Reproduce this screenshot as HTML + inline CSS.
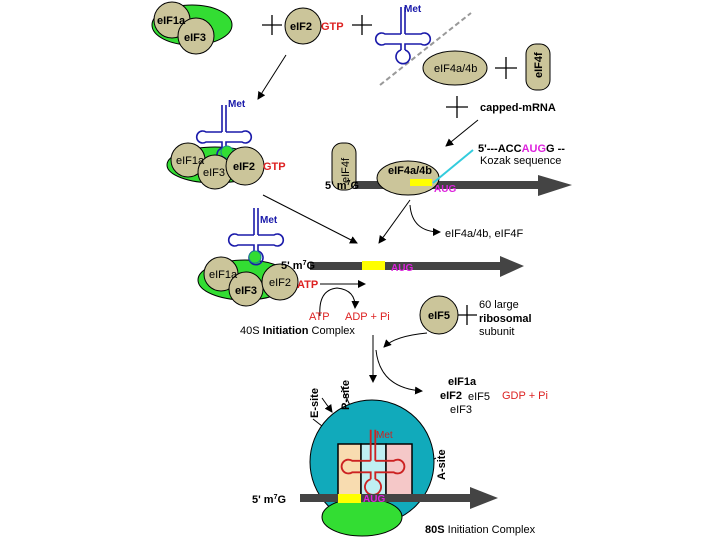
<!DOCTYPE html>
<html><head><meta charset="utf-8"><style>
html,body{margin:0;padding:0;background:#fff;}
svg{display:block;font-family:"Liberation Sans",sans-serif;}
</style></head><body>
<svg width="720" height="540" viewBox="0 0 720 540" xmlns="http://www.w3.org/2000/svg">
<defs>
<marker id="ah" markerWidth="8" markerHeight="8" refX="7" refY="4" orient="auto" markerUnits="userSpaceOnUse">
<path d="M0,0 L8,4 L0,8 Z" fill="#000"/></marker>
<g id="trna" fill="none" stroke-width="1.6">
<path d="M-2,-35 V-8 M2,-35 V-8"/>
<path d="M-2,-8 H-18 A6,6 0 1 0 -18,2 H-2 V8"/>
<path d="M2,-8 H18 A6,6 0 1 1 18,2 H2 V8"/>
<path d="M-2,8 A7,7 0 1 0 2,8"/>
</g>
</defs>
<rect width="720" height="540" fill="#fff"/>
<g stroke="#000" stroke-width="1">
<ellipse cx="192" cy="25" rx="40" ry="20" fill="#33dd33"/>
<circle cx="172" cy="20" r="18" fill="#cbc59a"/>
<circle cx="196" cy="36" r="18" fill="#cbc59a"/>
<circle cx="303" cy="26" r="18" fill="#cbc59a"/>
<ellipse cx="455" cy="68" rx="32" ry="17" fill="#cbc59a"/>
<rect x="526" y="44" width="24" height="46" rx="10" fill="#cbc59a"/>
</g>
<g font-size="11" font-weight="bold">
<text x="157" y="24">eIF1a</text><text x="184" y="41">eIF3</text>
<text x="290" y="30">eIF2</text>
<text x="321" y="30" fill="#dd2222">GTP</text>
<text x="434" y="72" font-weight="normal">eIF4a/4b</text>
<text transform="translate(542,78) rotate(-90)" font-size="11">eIF4f</text>
</g>
<g stroke="#000" stroke-width="1.3">
<path d="M262,25 H282 M272,15 V35"/>
<path d="M352,25 H372 M362,15 V35"/>
<path d="M495,68 H517 M506,57 V79"/>
<path d="M446,107 H468 M457,96 V118"/>
</g>
<line x1="380" y1="85" x2="471" y2="13" stroke="#999" stroke-width="2" stroke-dasharray="5,3"/>
<use href="#trna" transform="translate(403,42)" stroke="#1a1aaa"/>
<text x="404" y="12" font-size="10" font-weight="bold" fill="#1a1aaa">Met</text>
<text x="480" y="111" font-size="11" font-weight="bold">capped-mRNA</text>
<g stroke="#000" stroke-width="1" marker-end="url(#ah)">
<line x1="286" y1="55" x2="258" y2="99"/>
<line x1="478" y1="120" x2="446" y2="146"/>
<line x1="263" y1="195" x2="357" y2="243"/>
<line x1="410" y1="200" x2="379" y2="243"/>
<path d="M410,205 Q412,232 440,232" fill="none"/>
<line x1="320" y1="284" x2="365" y2="284"/>
<path d="M320,316 Q318,290 337,288 Q356,290 355,308" fill="none"/>
<path d="M427,333 Q395,336 384,347" fill="none"/>
<line x1="373" y1="335" x2="373" y2="382"/>
<path d="M376,350 Q380,388 422,391" fill="none"/>
<line x1="322" y1="398" x2="332" y2="412"/>
<line x1="341" y1="386" x2="366" y2="440"/>
<line x1="436" y1="458" x2="410" y2="472"/>
</g>
<line x1="313" y1="419" x2="345" y2="444" stroke="#000" stroke-width="1" marker-end="url(#ah)"/>
<ellipse cx="215" cy="165" rx="48" ry="18" fill="#33dd33" stroke="#000"/>
<use href="#trna" transform="translate(224,140)" stroke="#1a1aaa"/>
<circle cx="227" cy="152" r="6" fill="#33dd33" stroke="#1a8a8a"/>
<text x="228" y="107" font-size="10" font-weight="bold" fill="#1a1aaa">Met</text>
<g stroke="#000" fill="#cbc59a">
<circle cx="188" cy="160" r="17"/><circle cx="215" cy="172" r="17"/><circle cx="245" cy="166" r="19"/>
</g>
<g font-size="11"><text x="176" y="164">eIF1a</text><text x="203" y="176">eIF3</text>
<text x="233" y="170" font-weight="bold">eIF2</text>
<text x="263" y="170" fill="#dd2222" font-weight="bold">GTP</text></g>
<rect x="355" y="181" width="185" height="8" fill="#444"/>
<path d="M538,175 L572,185 L538,196 Z" fill="#444"/>
<rect x="332" y="143" width="24" height="47" rx="10" fill="#cbc59a" stroke="#000"/>
<text transform="translate(349,183) rotate(-90)" font-size="11">eIF4f</text>
<text x="325" y="189" font-size="11" font-weight="bold">5' m<tspan font-size="7" dy="-4">7</tspan><tspan dy="4">G</tspan></text>
<ellipse cx="408" cy="178" rx="31" ry="17" fill="#cbc59a" stroke="#000"/>
<text x="388" y="174" font-size="11" font-weight="bold">eIF4a/4b</text>
<rect x="410" y="179" width="22" height="7" fill="#ffff00"/>
<line x1="433" y1="183" x2="473" y2="150" stroke="#33ccdd" stroke-width="2"/>
<text x="434" y="192" font-size="10" font-weight="bold" fill="#dd22dd">AUG</text>
<text x="478" y="152" font-size="11" font-weight="bold">5'---ACC<tspan fill="#dd22dd">AUG</tspan>G --</text>
<text x="480" y="164" font-size="11">Kozak sequence</text>
<text x="445" y="237" font-size="11">eIF4a/4b, eIF4F</text>
<rect x="310" y="262" width="192" height="8" fill="#444"/>
<path d="M500,256 L524,266 L500,277 Z" fill="#444"/>
<rect x="362" y="261" width="23" height="9" fill="#ffff00"/>
<text x="391" y="271" font-size="10" font-weight="bold" fill="#dd22dd">AUG</text>
<ellipse cx="245" cy="280" rx="47" ry="20" fill="#33dd33" stroke="#000"/>
<use href="#trna" transform="translate(256,243)" stroke="#1a1aaa"/>
<circle cx="255" cy="257" r="6" fill="#33dd33" stroke="#1a8a8a"/>
<text x="260" y="223" font-size="10" font-weight="bold" fill="#1a1aaa">Met</text>
<g stroke="#000" fill="#cbc59a">
<circle cx="221" cy="274" r="17"/><circle cx="246" cy="289" r="17"/><circle cx="280" cy="282" r="18"/>
</g>
<g font-size="11"><text x="209" y="278">eIF1a</text><text x="235" y="294" font-weight="bold">eIF3</text>
<text x="269" y="286">eIF2</text>
<text x="297" y="288" fill="#dd2222" font-weight="bold">ATP</text>
<text x="281" y="269" font-weight="bold">5' m<tspan font-size="7" dy="-4">7</tspan><tspan dy="4">G</tspan></text>
<text x="309" y="320" fill="#dd2222">ATP</text>
<text x="345" y="320" fill="#dd2222">ADP + Pi</text>
<text x="240" y="334">40S <tspan font-weight="bold">Initiation</tspan> Complex</text></g>
<circle cx="439" cy="315" r="19" fill="#cbc59a" stroke="#000"/>
<text x="428" y="319" font-size="11" font-weight="bold">eIF5</text>
<path d="M458,315 H477 M467,305 V325" stroke="#000" stroke-width="1.3"/>
<g font-size="11"><text x="479" y="308">60 large</text><text x="479" y="322" font-weight="bold">ribosomal</text><text x="479" y="335">subunit</text>
<text x="448" y="385" font-weight="bold">eIF1a</text>
<text x="440" y="399" font-weight="bold">eIF2</text><text x="468" y="400">eIF5</text>
<text x="502" y="399" fill="#dd2222">GDP + Pi</text>
<text x="450" y="413">eIF3</text></g>
<ellipse cx="372" cy="462" rx="62" ry="62" fill="#11aabb" stroke="#000"/>
<ellipse cx="362" cy="517" rx="40" ry="19" fill="#33dd33" stroke="#000"/>
<rect x="338" y="444" width="23" height="53" fill="#f8dcb0" stroke="#000" stroke-width="1.5"/>
<rect x="361" y="444" width="25" height="53" fill="#bfeff2" stroke="#000" stroke-width="1.5"/>
<rect x="386" y="444" width="26" height="53" fill="#f5c8c8" stroke="#000" stroke-width="1.5"/>
<use href="#trna" transform="translate(373,470) scale(1.15)" stroke="#cc2222"/>
<text x="376" y="438" font-size="10" fill="#cc2222">Met</text>
<rect x="300" y="494" width="172" height="8" fill="#444"/>
<path d="M470,487 L498,498 L470,509 Z" fill="#444"/>
<rect x="338" y="494" width="23" height="9" fill="#ffff00"/>
<text x="363" y="502" font-size="10" font-weight="bold" fill="#dd22dd">AUG</text>
<text x="252" y="503" font-size="11" font-weight="bold">5' m<tspan font-size="7" dy="-4">7</tspan><tspan dy="4">G</tspan></text>
<text transform="translate(318,418) rotate(-90)" font-size="11" font-weight="bold">E-site</text>
<text transform="translate(349,410) rotate(-90)" font-size="11" font-weight="bold">P-site</text>
<text transform="translate(445,480) rotate(-90)" font-size="11" font-weight="bold">A-site</text>
<text x="425" y="533" font-size="11"><tspan font-weight="bold">80S</tspan> Initiation Complex</text>
</svg>
</body></html>
